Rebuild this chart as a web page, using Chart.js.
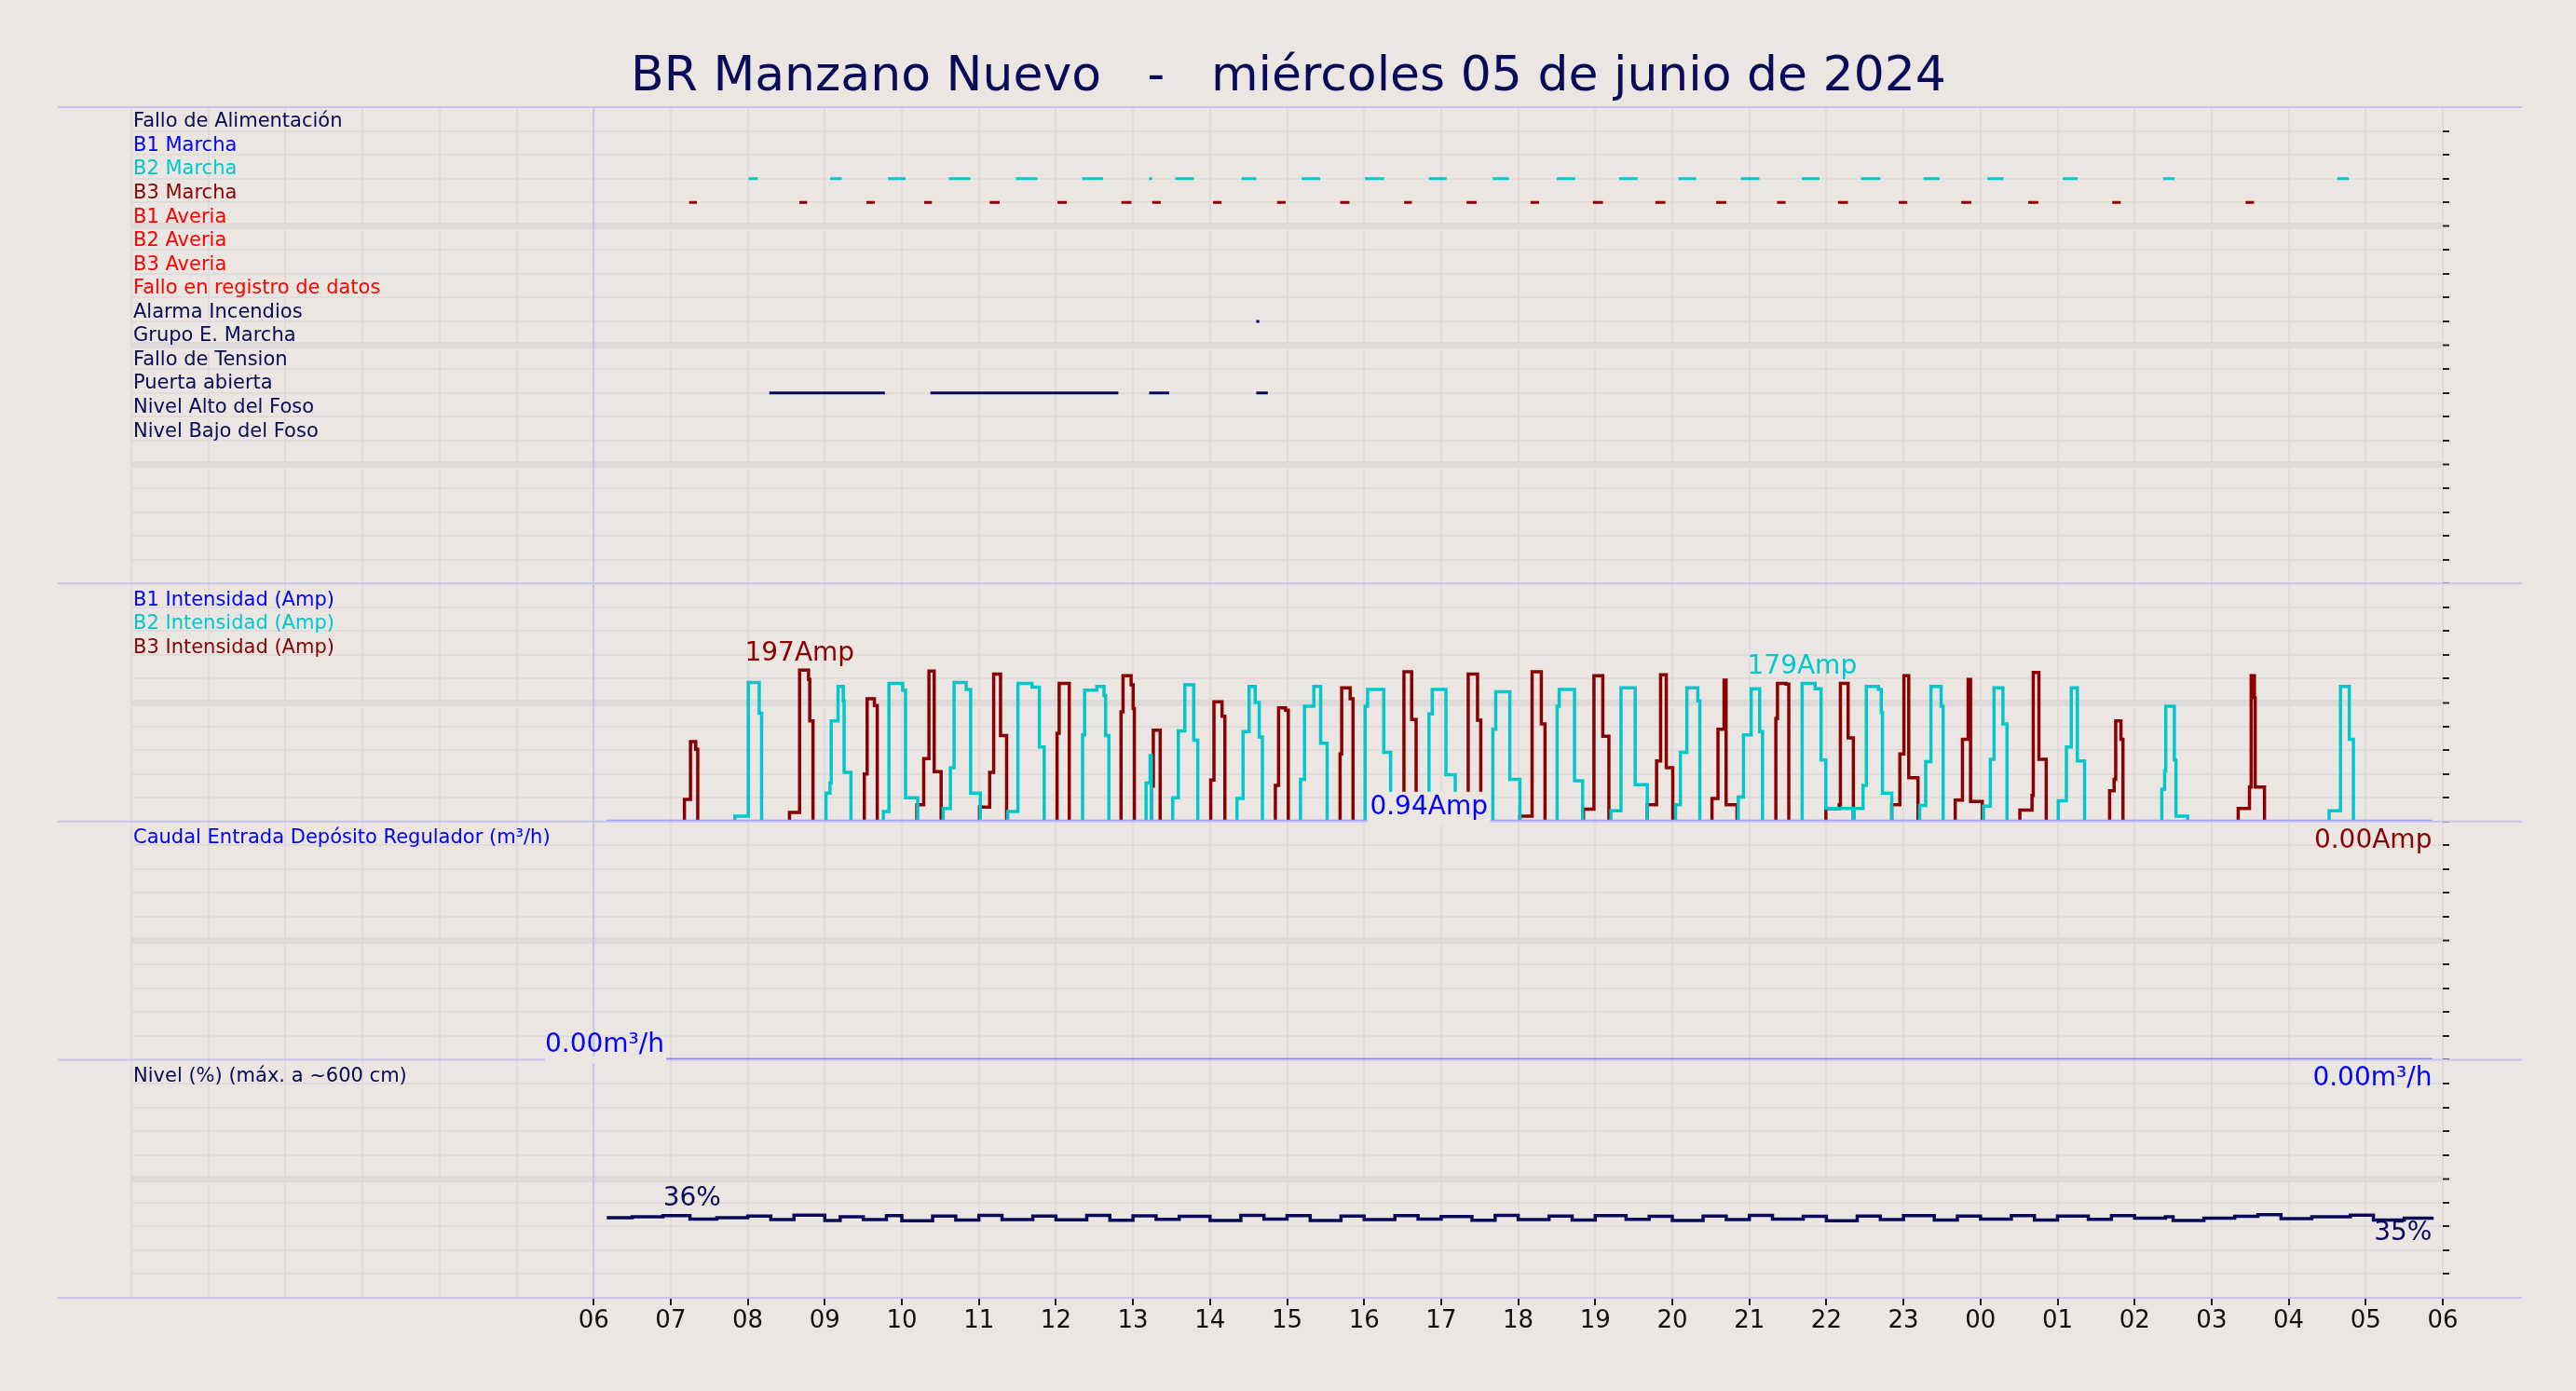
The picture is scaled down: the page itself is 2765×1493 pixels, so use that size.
<!DOCTYPE html>
<html><head><meta charset="utf-8">
<script src="https://cdn.jsdelivr.net/npm/chart.js@4.4.0/dist/chart.umd.min.js"></script>
<style>html,body{margin:0;padding:0;background:#ebe6e1;}canvas{display:block;}</style>
</head><body>
<canvas id="c" width="2765" height="1493"></canvas>
<script>
const TITLE = "BR Manzano Nuevo   -   miércoles 05 de junio de 2024";
const digitalLabels = ["Fallo de Alimentación","B1 Marcha","B2 Marcha","B3 Marcha","B1 Averia","B2 Averia","B3 Averia","Fallo en registro de datos","Alarma Incendios","Grupo E. Marcha","Fallo de Tension","Puerta abierta","Nivel Alto del Foso","Nivel Bajo del Foso"];
const digitalColors = ["#0a0a5a","#0000ff","#00c8cc","#8b0000","#ff0000","#ff0000","#ff0000","#ff0000","#0a0a5a","#0a0a5a","#0a0a5a","#0a0a5a","#0a0a5a","#0a0a5a"];
const hourTicks = [6,7,8,9,10,11,12,13,14,15,16,17,18,19,20,21,22,23,24,25,26,27,28,29,30];
// on/off periods (hours from 00:00 of 05/06)
const b2Marcha = [[8.01,8.13],[9.07,9.22],[9.82,10.05],[10.61,10.89],[11.48,11.76],[12.34,12.61],[13.21,13.25],[13.55,13.79],[14.41,14.6],[15.19,15.43],[16.01,16.26],[16.84,17.07],[17.67,17.88],[18.5,18.74],[19.31,19.55],[20.08,20.31],[20.89,21.13],[21.68,21.91],[22.45,22.7],[23.26,23.47],[24.09,24.3],[25.07,25.26],[26.37,26.52],[28.63,28.78]];
const b3Marcha = [[7.24,7.34],[8.67,8.77],[9.54,9.65],[10.29,10.39],[11.14,11.27],[12.02,12.14],[12.85,12.98],[13.25,13.36],[14.04,14.15],[14.87,14.98],[15.69,15.81],[16.52,16.62],[17.33,17.46],[18.16,18.27],[18.97,19.1],[19.78,19.91],[20.57,20.7],[21.36,21.47],[22.15,22.28],[22.94,23.05],[23.75,23.88],[24.62,24.75],[25.71,25.82],[27.44,27.55]];
const alarmaIncendios = [[14.6,14.64]];
const puertaAbierta = [[8.28,9.78],[10.37,12.81],[13.21,13.47],[14.6,14.75]];
// intensities [hour, amp], value holds from that hour
const b1Amp = [[6.17,0],[29.86,0]];
const b2Amp = [[6.17,0],[7.834,7],[8.007,181],[8.149,141],[8.18,0],
[9.015,37],[9.067,50],[9.083,131],[9.172,176],[9.24,157],[9.251,64],[9.34,0],
[9.76,13],[9.833,180],[10.011,171],[10.048,31],[10.206,0],
[10.536,17],[10.63,70],[10.678,181],[10.835,172],[10.893,37],[11.018,0],
[11.375,13],[11.507,180],[11.69,175],[11.785,97],[11.848,0],
[12.346,113],[12.372,171],[12.53,176],[12.624,164],[12.645,112],[12.687,0],
[13.17,50],[13.222,86],[13.238,0],
[13.516,31],[13.589,118],[13.673,178],[13.789,106],[13.841,0],
[14.35,30],[14.429,117],[14.507,176],[14.586,155],[14.639,110],[14.68,0],
[15.174,55],[15.226,150],[15.347,176],[15.436,102],[15.52,0],
[16.013,150],[16.045,172],[16.255,90],[16.344,0],
[16.842,140],[16.884,172],[17.062,61],[17.183,0],
[17.671,120],[17.708,169],[17.891,55],[18.022,0],
[18.505,150],[18.532,172],[18.731,53],[18.836,0],
[19.203,14],[19.334,174],[19.518,48],[19.675,0],
[20.042,22],[20.105,90],[20.189,174],[20.331,157],[20.357,0],
[20.856,32],[20.924,113],[21.024,173],[21.134,117],[21.171,0],
[21.685,180],[21.853,173],[21.931,80],[21.993,17],[22.35,0],
[22.36,17],[22.476,47],[22.518,176],[22.675,172],[22.712,142],[22.728,37],[22.848,0],
[23.21,21],[23.289,78],[23.357,176],[23.489,150],[23.515,0],
[24.039,20],[24.128,81],[24.176,174],[24.291,127],[24.344,0],
[25.01,27],[25.115,97],[25.178,174],[25.257,79],[25.351,0],
[26.353,42],[26.39,66],[26.405,150],[26.516,80],[26.537,7],[26.689,0],
[28.525,14],[28.672,176],[28.787,107],[28.84,0],[29.86,0]];
const b3Amp = [[6.17,0],[7.178,29],[7.257,104],[7.325,94],[7.351,0],
[8.542,12],[8.673,197],[8.789,185],[8.805,131],[8.847,0],
[9.513,62],[9.55,160],[9.644,151],[9.681,0],
[10.195,22],[10.284,82],[10.352,196],[10.42,65],[10.51,0],
[11.008,19],[11.14,64],[11.192,192],[11.281,112],[11.36,0],
[12.015,115],[12.042,180],[12.173,0],
[12.845,143],[12.871,190],[12.976,178],[13.002,147],[13.018,0],
[13.238,46],[13.264,119],[13.353,0],
[14.009,54],[14.051,156],[14.156,137],[14.193,0],
[14.848,47],[14.89,148],[14.98,145],[15.016,0],
[15.688,88],[15.709,174],[15.819,160],[15.856,0],
[16.517,195],[16.617,133],[16.675,0],
[17.351,192],[17.472,132],[17.514,0],
[18.022,7],[18.18,195],[18.3,127],[18.348,0],
[18.847,16],[18.983,190],[19.098,111],[19.177,0],
[19.675,22],[19.796,79],[19.848,191],[19.922,70],[20.006,0],
[20.515,30],[20.593,120],[20.672,184],[20.698,22],[20.84,0],
[21.344,134],[21.365,180],[21.475,179],[21.512,0],
[21.993,17],[22.166,22],[22.182,180],[22.282,109],[22.35,0],
[22.848,22],[22.953,88],[23.006,190],[23.069,57],[23.189,0],
[23.672,28],[23.766,107],[23.84,185],[23.871,26],[24.023,0],
[24.511,15],[24.669,34],[24.685,194],[24.758,81],[24.853,0],
[25.676,40],[25.734,55],[25.755,131],[25.823,107],[25.849,0],
[27.345,17],[27.491,45],[27.513,190],[27.555,161],[27.565,45],[27.686,0],[29.86,0]];
const caudal = [[6.94,0],[29.86,0]];
const nivel = [[6.17,35.8],[6.5,36.3],[6.9,36.8],[7.25,35.2],[7.6,35.8],[8.0,36.6],[8.3,35.0],[8.6,37.0],[9.0,34.6],[9.2,36.2],[9.5,35.0],[9.8,36.8],[10.0,34.5],[10.4,36.6],[10.7,34.8],[11.0,36.9],[11.3,35.0],[11.7,36.6],[12.0,34.9],[12.4,36.9],[12.7,34.7],[13.0,36.7],[13.3,35.1],[13.6,36.5],[14.0,34.6],[14.4,36.9],[14.7,35.2],[15.0,36.8],[15.3,34.6],[15.7,36.6],[16.0,35.0],[16.4,36.8],[16.7,35.2],[17.0,36.4],[17.4,34.7],[17.7,36.9],[18.0,35.0],[18.4,36.6],[18.7,34.8],[19.0,36.8],[19.4,35.1],[19.7,36.5],[20.0,34.6],[20.4,36.6],[20.7,35.0],[21.0,36.9],[21.3,35.2],[21.7,36.5],[22.0,34.5],[22.4,36.6],[22.7,35.0],[23.0,36.8],[23.4,34.8],[23.7,36.6],[24.0,35.2],[24.4,36.8],[24.7,34.8],[25.0,36.6],[25.4,35.1],[25.7,36.8],[26.0,35.6],[26.4,36.2],[26.5,34.6],[26.9,35.6],[27.3,36.5],[27.6,37.2],[27.9,35.4],[28.3,36.3],[28.8,37.0],[29.1,34.8],[29.5,35.6],[29.86,36.3]];

const BG = "#ebe6e1", GRID = "#e1dbdb", SEP = "#c4c4ee", NAVY = "#0a0a5a", CYAN = "#00c8cc", DRED = "#8b0000", BLUE = "#0000ff";
const FONT = "'DejaVu Sans', sans-serif";
const pts = a => a.map(p => ({x:p[0], y:p[1]}));
const segs = (a, row) => { const o=[]; a.forEach(s=>{o.push({x:s[0],y:row},{x:s[1],y:row},{x:s[1],y:null});}); return o; };
const pad = v => String(v%24).padStart(2,"0");

function yAxis(w, max, step) {
  return { type:'linear', position:'right', stack:'p', stackWeight:w, min:0, max:max,
    border:{display:false},
    ticks:{display:false, stepSize:step},
    grid:{ color: c => (c.tick && c.index % 5 === 0 && c.index>0 && c.index<10*w) ? "#e0d9d9" : GRID,
           lineWidth: c => (c.tick && c.index % 5 === 0 && c.index>0 && c.index<10*w) ? 7 : 2,
           tickColor:"#222", tickLength:7, tickWidth:2 },
    afterFit: s => { s.width = 12; } };
}
function ds(data, axis, color, width, stepped) {
  return { data, yAxisID: axis, borderColor: color, backgroundColor: color, borderWidth: width,
           pointRadius:0, stepped: stepped ? 'before' : false, spanGaps:false, fill:false };
}

const deco = {
  id:'deco',
  beforeDraw(ch){ const c=ch.ctx; c.save(); c.fillStyle=BG; c.fillRect(0,0,ch.width,ch.height); c.restore(); },
  afterDatasetsDraw(ch){
    const c=ch.ctx, x=ch.scales.x, yd=ch.scales.yDig, ya=ch.scales.yAmp, yf=ch.scales.yFlow, yl=ch.scales.yLvl, a=ch.chartArea;
    c.save();
    c.strokeStyle=SEP; c.lineWidth=2;
    [a.top, a.bottom, yd.bottom, ya.bottom, yf.bottom].forEach(y=>{c.beginPath();c.moveTo(62,y);c.lineTo(2707,y);c.stroke();});
    c.beginPath(); const x6=x.getPixelForValue(6); c.moveTo(x6,a.top); c.lineTo(x6,a.bottom); c.stroke();
    c.fillStyle=NAVY; c.font="52px "+FONT; c.textAlign="center"; c.textBaseline="middle";
    c.fillText(TITLE, 1383, 83);
    c.font="21px "+FONT; c.textAlign="left"; c.textBaseline="middle";
    const L=143;
    digitalLabels.forEach((t,i)=>{ c.fillStyle=digitalColors[i]; c.fillText(t, L, yd.getPixelForValue(19.38-i)); });
    const ampTop = ya.getPixelForValue(310);
    [["B1 Intensidad (Amp)",BLUE],["B2 Intensidad (Amp)",CYAN],["B3 Intensidad (Amp)",DRED]].forEach((p,i)=>{c.fillStyle=p[1]; c.fillText(p[0], L, ampTop+18+i*25.6);});
    c.fillStyle=BLUE; c.fillText("Caudal Entrada Depósito Regulador (m³/h)", L, yf.getPixelForValue(10)+18);
    c.fillStyle=NAVY; c.fillText("Nivel (%) (máx. a ~600 cm)", L, yl.getPixelForValue(106.5)+18);
    c.font="28px "+FONT; c.textBaseline="alphabetic";
    c.textAlign="center";
    c.fillStyle=DRED; c.fillText("197Amp", x.getPixelForValue(8.673), ya.getPixelForValue(197)-10);
    c.fillStyle=CYAN; c.fillText("179Amp", x.getPixelForValue(21.685), ya.getPixelForValue(180)-10);
    let tx=x.getPixelForValue(16.84), ty=ya.getPixelForValue(0);
    c.fillStyle=BG; c.fillRect(tx-66, ty-32, 132, 36);
    c.fillStyle=BLUE; c.fillText("0.94Amp", tx, ty-8);
    c.textAlign="right"; c.fillStyle=DRED; c.fillText("0.00Amp", x.getPixelForValue(29.86), ty+28);
    ty=yf.getPixelForValue(0); tx=x.getPixelForValue(6.94);
    c.fillStyle=BG; c.fillRect(tx-130, ty-4, 130, 8);
    c.fillStyle=BLUE; c.fillText("0.00m³/h", tx-2, ty-8);
    c.fillText("0.00m³/h", x.getPixelForValue(29.86), ty+28);
    c.textAlign="left"; c.fillStyle=NAVY;
    c.fillText("36%", x.getPixelForValue(6.9), yl.getPixelForValue(36.3)-12);
    c.textAlign="right";
    c.fillText("35%", x.getPixelForValue(29.86), yl.getPixelForValue(35)+22);
    c.restore();
  }
};

new Chart(document.getElementById('c'), {
  type:'line',
  data:{ datasets:[
    ds(segs(b2Marcha,17),'yDig',CYAN,3,false),
    ds(segs(b3Marcha,16),'yDig',DRED,3,false),
    ds(segs(alarmaIncendios,11),'yDig',NAVY,3,false),
    ds(segs(puertaAbierta,8),'yDig',NAVY,3,false),
    ds(pts(b1Amp),'yAmp',"#9a9af5",4,true),
    ds(pts(b2Amp),'yAmp',CYAN,3.5,true),
    ds(pts(b3Amp),'yAmp',DRED,3.5,true),
    ds(pts(caudal),'yFlow',"#4a4af0",3.5,true),
    ds(pts(nivel),'yLvl',NAVY,3.5,true)
  ]},
  plugins:[deco],
  options:{
    responsive:false, animation:false, devicePixelRatio:1,
    layout:{padding:{left:141, top:115, right:131, bottom:0}},
    plugins:{legend:{display:false}, tooltip:{enabled:false}, title:{display:false}},
    scales:{
      x:{ type:'linear', min:0, max:30, border:{display:false},
          afterBuildTicks: s => { s.ticks = Array.from({length:31},(_,i)=>({value:i})); },
          ticks:{ autoSkip:false, maxRotation:0, color:"#111", font:{family:"DejaVu Sans", size:26}, padding:2,
                  callback: v => hourTicks.includes(v) ? pad(v) : '' },
          grid:{ color:GRID, lineWidth:2, tickLength:8, tickColor: c => hourTicks.includes(c.tick.value) ? "#222" : "rgba(0,0,0,0)" },
          afterFit: s => { s.height = 100; } },
      yDig: yAxis(2, 20, 1),
      yAmp: yAxis(1, 310, 31),
      yFlow: yAxis(1, 10, 1),
      yLvl: yAxis(1, 106.5, 10.65)
    }
  }
});
</script>
</body></html>
